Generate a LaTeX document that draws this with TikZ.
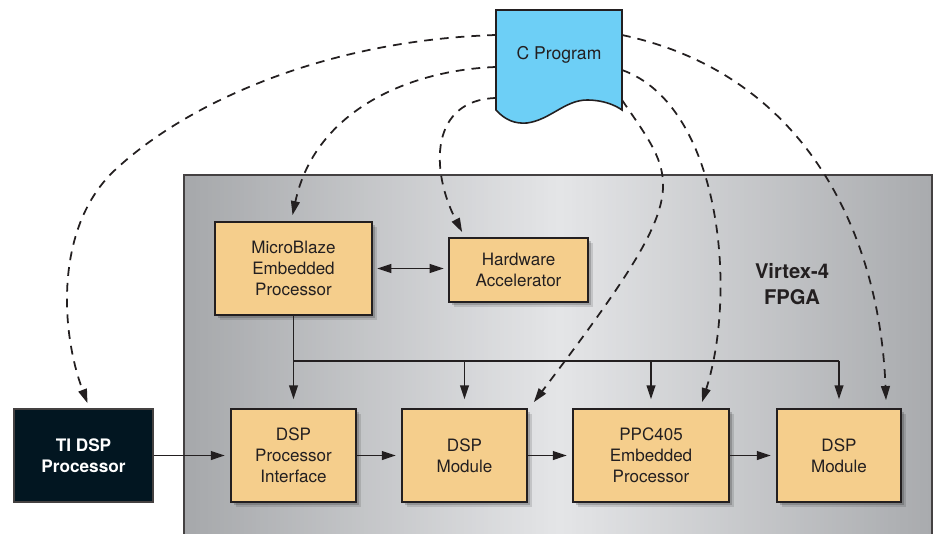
\documentclass[tikz,border=0pt]{standalone}
\usepackage{fontspec}
\setmainfont{TeX Gyre Heros}
\usetikzlibrary{arrows.meta,calc}
\definecolor{boxfill}{HTML}{F5CE8C}
\definecolor{ink}{HTML}{231F20}
\definecolor{tifill}{HTML}{021621}
\definecolor{cfill}{HTML}{6DCFF6}
\definecolor{fpgaL}{HTML}{A6A8AB}
\definecolor{fpgaM}{HTML}{E4E5E7}
\definecolor{fpgaR}{HTML}{A9ABAE}
\begin{document}
\begin{tikzpicture}[x=0.02cm,y=-0.02cm,
  blk/.style={draw=ink, line width=1pt, fill=boxfill, align=center, inner sep=0pt,
    font=\fontsize{9.7}{11.9}\selectfont, text=ink,
    preaction={fill=black, opacity=0.12, transform canvas={shift={(3pt,-3pt)}}},
    preaction={fill=black, opacity=0.18, transform canvas={shift={(1.8pt,-1.8pt)}}}},
  tibox/.style={draw=ink!85, line width=1pt, fill=tifill, align=center, inner sep=0pt,
    font=\fontsize{9.8}{11.9}\selectfont\bfseries, text=white},
  conn/.style={-{Triangle[length=8pt,width=5pt]}, draw=ink, line width=1pt},
  dconn/.style={conn, dash pattern=on 5pt off 4pt},
  busline/.style={draw=ink, line width=1pt},
]
\useasboundingbox (0,0) rectangle (937,534);
\clip (0,0) rectangle (937,534);

% FPGA background (gradient built from strips)
\foreach \i in {0,...,93}{
  \pgfmathsetmacro{\xa}{184+4*\i}
  \pgfmathsetmacro{\p}{100*\i/93}
  \fill[fpgaM!\p!fpgaL] (\xa,175) rectangle ({\xa+4.6},545);
}
\foreach \i in {0,...,92}{
  \pgfmathsetmacro{\xa}{560+4*\i}
  \pgfmathsetmacro{\p}{100*\i/92}
  \fill[fpgaR!\p!fpgaM] (\xa,175) rectangle ({min(\xa+4.6,932)},545);
}
\draw[ink!85, line width=0.8pt] (184,545) -- (184,175) -- (932,175) -- (932,545);

% C program document
\filldraw[fill=cfill, draw=ink, line width=0.9pt]
  (496,10) -- (622,10) -- (622,110)
  .. controls (615,105) and (603,100) .. (587,100)
  .. controls (565,100) and (550,120) .. (527,123)
  .. controls (515,124) and (505,120) .. (496,110) -- cycle;
\node[font=\fontsize{10}{12}\selectfont, text=ink] (cp) at (559,55) {C Program};
\coordinate (cl1) at (496,35);
\coordinate (cl2) at (496,67);
\coordinate (cl3) at (496,98);
\coordinate (cr1) at (622,35);
\coordinate (cr2) at (622,70);
\coordinate (cr3) at (622,100);

% blocks
\node[blk, minimum width=3.14cm, minimum height=1.86cm] (mb) at (293.5,268.5) {MicroBlaze\\Embedded\\Processor};
\node[blk, minimum width=2.78cm, minimum height=1.28cm] (hw) at (518.5,270) {Hardware\\Accelerator};
\node[tibox, minimum width=2.78cm, minimum height=1.86cm] (ti) at (83.5,455.5) {TI DSP\\Processor};
\node[blk, minimum width=2.5cm, minimum height=1.86cm] (dspi) at (293.5,455.5) {DSP\\Processor\\Interface};
\node[blk, minimum width=2.5cm, minimum height=1.86cm] (dsp1) at (464.5,455.5) {DSP\\Module};
\node[blk, minimum width=3.12cm, minimum height=1.86cm] (ppc) at (651,455.5) {PPC405\\Embedded\\Processor};
\node[blk, minimum width=2.48cm, minimum height=1.86cm] (dsp2) at (839,455.5) {DSP\\Module};
\node[font=\fontsize{11.5}{14.7}\selectfont\bfseries, text=ink, align=center] (vx) at (792,284) {Virtex-4\\FPGA};

% bus
\coordinate (bus) at (293.5,361);
\draw[busline] (mb.south |- bus) -- (dsp2.north |- bus);
\draw[conn, shorten >=5pt] (mb.south) -- (dspi.north);
\draw[conn, shorten >=5pt] (dsp1.north |- bus) -- (dsp1.north);
\draw[conn, shorten >=5pt] (ppc.north |- bus) -- (ppc.north);
\draw[conn, shorten >=5pt] (dsp2.north |- bus) -- (dsp2.north);

% horizontal chain
\draw[conn, shorten >=3pt] (ti) -- (dspi);
\draw[conn, shorten >=3pt] (dspi) -- (dsp1);
\draw[conn, shorten >=3pt] (dsp1) -- (ppc);
\draw[conn, shorten >=3pt] (ppc) -- (dsp2);
\draw[ink, line width=1pt, {Triangle[length=8pt,width=5pt]}-{Triangle[length=8pt,width=5pt]}, shorten <=2.5pt, shorten >=2.5pt]
  (mb.east) -- (mb.east -| hw.west);

% dashed end points
\coordinate (e1) at ($(ti.north)+(4,-5)$);
\coordinate (e2) at ($(mb.north)+(-1,-6)$);
\coordinate (e3) at ($(hw.north west)+(14,-5)$);
\coordinate (e4) at ($(dsp1.north east)+(6,-6)$);
\coordinate (e5) at ($(ppc.north)+(51,-6)$);
\coordinate (e6) at ($(dsp2.north)+(47,-8)$);

% dashed curves
\draw[dconn] (cl1) .. controls (330,40) and (190,100) .. (115,170) .. controls (55,226) and (60,330) .. (e1);
\draw[dconn] (cl2) .. controls (410,70) and (315,110) .. (e2);
\draw[dconn] (cl3) .. controls (430,100) and (430,170) .. (e3);
\draw[dconn] (cr3) .. controls (680,185) and (695,190) .. (e4);
\draw[dconn] (cr2) .. controls (720,105) and (738,290) .. (e5);
\draw[dconn] (cr1) .. controls (810,75) and (880,240) .. (e6);
\end{tikzpicture}
\end{document}
